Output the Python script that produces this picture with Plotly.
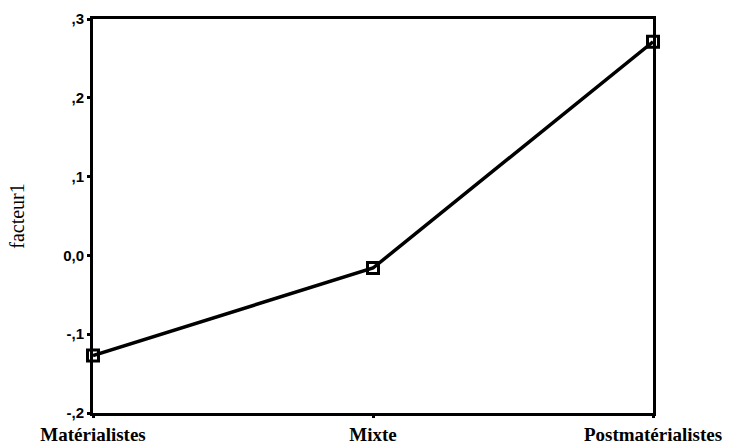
import plotly.graph_objects as go

categories = ["Matérialistes", "Mixte", "Postmatérialistes"]
values = [-0.127, -0.016, 0.271]
y_tickvals = [-0.2, -0.1, 0.0, 0.1, 0.2, 0.3]
y_ticktext = ["-,2", "-,1", "0,0", ",1", ",2", ",3"]

xpos = list(range(len(categories)))

fig = go.Figure()
fig.add_trace(go.Scatter(
    x=xpos, y=values, mode="lines+markers",
    line=dict(color="black", width=3.5),
    marker=dict(symbol="square-open", size=11, color="black", line=dict(width=3, color="black")),
    cliponaxis=False, showlegend=False,
))

fig.update_layout(
    width=735, height=444,
    margin=dict(l=93, r=82, t=19, b=31),
    paper_bgcolor="white", plot_bgcolor="white",
    xaxis=dict(
        range=[0, 2], tickvals=xpos, ticktext=categories,
        showgrid=False, zeroline=False, automargin=False,
        showline=True, linecolor="black", linewidth=3, mirror=True,
        ticks="outside", ticklen=2, tickwidth=3, tickcolor="black",
        tickfont=dict(family="Liberation Serif", size=19, color="black", weight="bold"),
    ),
    yaxis=dict(
        range=[-0.2, 0.3], tickvals=y_tickvals, ticktext=y_ticktext,
        showgrid=False, zeroline=False, automargin=False,
        showline=True, linecolor="black", linewidth=3, mirror=True,
        ticks="outside", ticklen=3, tickwidth=3, tickcolor="black",
        tickfont=dict(family="Liberation Sans", size=15, color="black", weight="bold"),
        title=dict(text="facteur1", font=dict(family="Liberation Serif", size=20, color="black"), standoff=34),
    ),
)

fig.write_html("out.html", config={"displayModeBar": False},
               post_script="document.body.style.margin='0';")
